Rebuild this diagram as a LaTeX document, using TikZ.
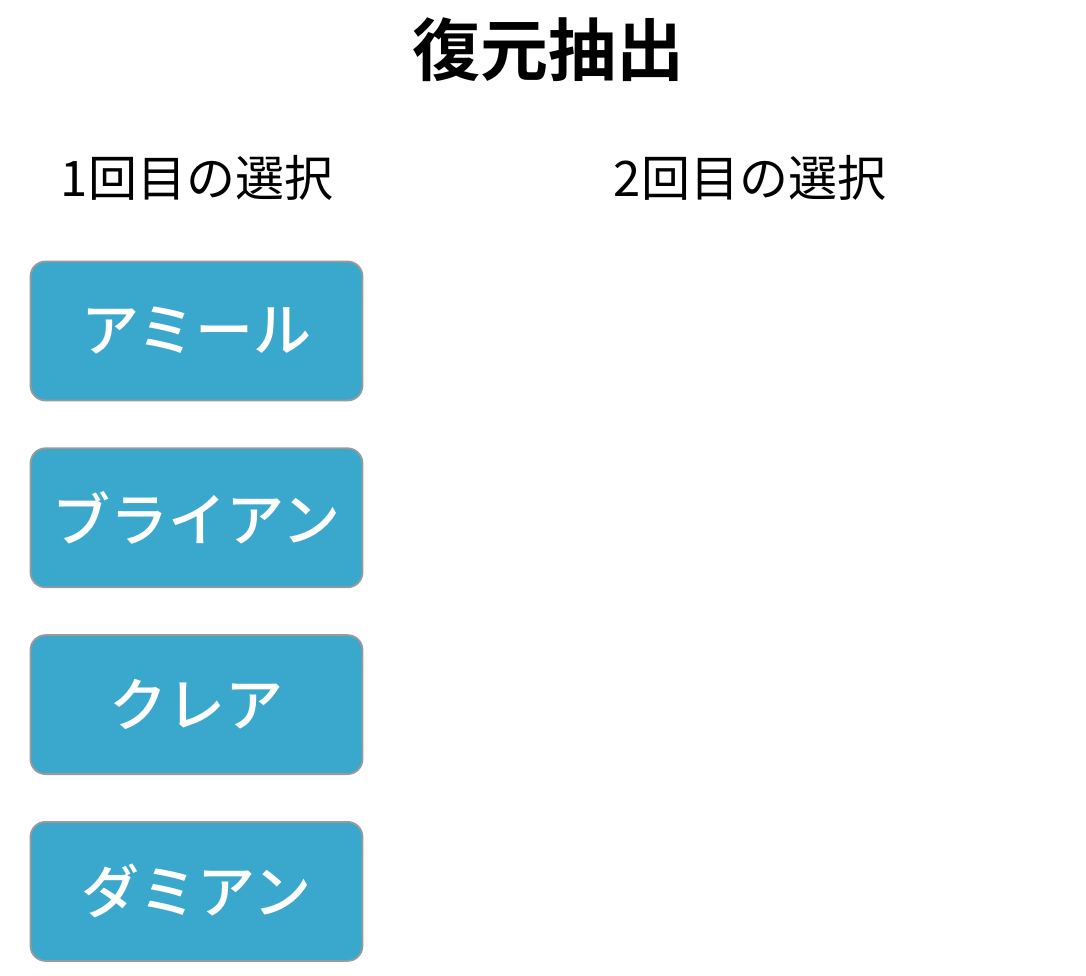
\documentclass[tikz,border=0pt]{standalone}
\usepackage{fontspec}
\usepackage{tikz}
\newfontfamily\cjk{Noto Sans CJK JP}
\newfontfamily\cjkmed{Noto Sans CJK JP Medium}
\newfontfamily\cjkbold{Noto Sans CJK JP Bold}
\usetikzlibrary{positioning}
\definecolor{boxblue}{HTML}{3AA7CC}
\definecolor{boxborder}{HTML}{9A9A9A}

\begin{document}
\begin{tikzpicture}[
        x=1pt, y=-1pt,
        every node/.style={inner sep=0pt},
        heading/.style={font=\cjk\fontsize{49}{52}\selectfont},
        person/.style={draw=boxborder, line width=1.8pt, fill=boxblue, rounded corners=15pt,
            minimum width=332pt, minimum height=139pt, text=white,
            font=\cjkmed\fontsize{58}{60}\selectfont}
    ]
    \useasboundingbox (0,0) rectangle (1086,976);

    % Title
    \node[font=\cjkbold\fontsize{68}{72}\selectfont] (title) at (548,50) {復元抽出};

    % Headers
    \node[heading] (first) at (197,178) {1回目の選択};
    \node[heading] (second) at (750,178) {2回目の選択};

    % Boxes
    \node[person] (amir) at (196.5,331) {アミール};
    \node[person, below=46pt of amir] (brian) {ブライアン};
    \node[person, below=46pt of brian] (claire) {クレア};
    \node[person, below=46pt of claire] (damian) {ダミアン};

\end{tikzpicture}
\end{document}
